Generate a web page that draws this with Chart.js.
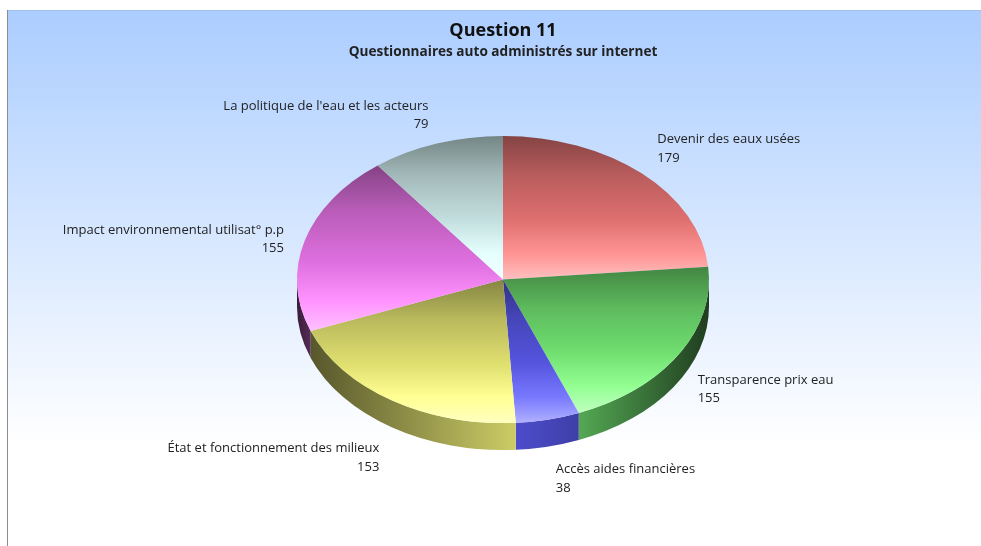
<!DOCTYPE html>
<html>
<head>
<meta charset="utf-8">
<title>Question 11</title>
<script src="https://cdn.jsdelivr.net/npm/chart.js@4"></script>
<style>
  html, body { margin: 0; padding: 0; background: #fff; }
  #wrap { width: 981px; height: 546px; }
</style>
</head>
<body>
<div id="wrap"><canvas id="chart-q11" width="981" height="546"></canvas></div>
<script>
const chartTitle = "Question 11";
const chartSubtitle = "Questionnaires auto administrés sur internet";

const categories = [
    "Devenir des eaux usées",
    "Transparence prix eau",
    "Accès aides financières",
    "État et fonctionnement des milieux",
    "Impact environnemental utilisat° p.p",
    "La politique de l'eau et les acteurs"
];
const values = [179, 155, 38, 153, 155, 79];

/* base colour of each slice, red green blue */
const sliceColors = [
    [255, 128, 128],
    [128, 255, 128],
    [96, 96, 255],
    [255, 255, 128],
    [255, 128, 255],
    [224, 255, 255]
];

const FONT = "'Open Sans', 'Noto Sans', sans-serif";
const TILT = 0.697;       // height / width of the pie ellipse
const DEPTH = 27;         // thickness of the pie
const RADIUS = 206;

/* small hand adjustment of each label, x then y */
const labelNudge = [[0, -2], [0, 3], [3, 1], [0, 7], [1, 7], [-1, 1]];

function shade(rgb, f) {
    return "rgb(" + rgb.map(c => Math.round(c * f)).join(",") + ")";
}
function tint(rgb, f) {
    return "rgb(" + rgb.map(c => Math.round(c + (255 - c) * f)).join(",") + ")";
}

/* top face: vertical gradient over the height of the slice */
function sliceGradient(context) {
    let chart = context.chart;
    let area = chart.chartArea;
    if (!area) {
        return "#ccc";
    }
    let total = values.reduce((a, b) => a + b, 0);
    let before = values.slice(0, context.dataIndex).reduce((a, b) => a + b, 0);
    let start = -Math.PI / 2 + before / total * 2 * Math.PI;
    let end = start + values[context.dataIndex] / total * 2 * Math.PI;
    let ys = [0, Math.sin(start), Math.sin(end)];
    for (let a = -Math.PI / 2; a <= 3 * Math.PI / 2; a += Math.PI / 2) {
        if (a > start && a < end) {
            ys.push(Math.sin(a));
        }
    }
    let cy = (area.top + area.bottom) / 2;
    let top = cy + Math.min(...ys) * RADIUS;
    let bottom = cy + Math.max(...ys) * RADIUS;
    let rgb = sliceColors[context.dataIndex];
    let g = chart.ctx.createLinearGradient(0, top, 0, bottom);
    g.addColorStop(0, shade(rgb, 0.52));
    g.addColorStop(0.28, shade(rgb, 0.73));
    g.addColorStop(0.58, shade(rgb, 0.87));
    g.addColorStop(0.82, tint(rgb, 0.15));
    g.addColorStop(1, tint(rgb, 0.5));
    return g;
}

const pie3d = {
    id: "pie3d",
    beforeDraw(chart) {
        let ctx = chart.ctx;
        let g = ctx.createLinearGradient(0, 10, 0, 445);
        g.addColorStop(0, "#abcdff");
        g.addColorStop(1, "#ffffff");
        ctx.save();
        ctx.fillStyle = g;
        ctx.fillRect(8, 10, chart.width - 8, chart.height - 10);
        ctx.fillStyle = "#9fbfee";
        ctx.fillRect(8, 10, chart.width - 8, 1);
        ctx.fillStyle = "#8c8c8c";
        ctx.fillRect(7, 10, 1, chart.height - 10);
        ctx.restore();
    },
    beforeDatasetsDraw(chart) {
        let ctx = chart.ctx;
        let arcs = chart.getDatasetMeta(0).data;
        let cx = arcs[0].x;
        let cy = arcs[0].y;
        let rx = arcs[0].outerRadius;
        let ry = rx * TILT;
        ctx.save();
        arcs.forEach(function (arc, i) {
            /* only the front half of the rim can be seen */
            let a0 = Math.max(arc.startAngle, 0);
            let a1 = Math.min(arc.endAngle, Math.PI);
            if (a1 <= a0) {
                return;
            }
            let rgb = sliceColors[i];
            let g = ctx.createLinearGradient(cx - rx, 0, cx + rx, 0);
            g.addColorStop(0, shade(rgb, 0.22));
            g.addColorStop(0.034, shade(rgb, 0.34));
            g.addColorStop(0.53, shade(rgb, 0.8));
            g.addColorStop(0.69, shade(rgb, 0.65));
            g.addColorStop(1, shade(rgb, 0.24));
            ctx.beginPath();
            ctx.ellipse(cx, cy + DEPTH, rx, ry, 0, a0, a1, false);
            ctx.ellipse(cx, cy, rx, ry, 0, a1, a0, true);
            ctx.closePath();
            ctx.fillStyle = g;
            ctx.fill();
        });
        ctx.restore();
        /* squash the library's arcs into the ellipse */
        ctx.save();
        ctx.translate(cx, cy);
        ctx.scale(1, TILT);
        ctx.translate(-cx, -cy);
    },
    afterDatasetsDraw(chart) {
        let ctx = chart.ctx;
        ctx.restore();
        let arcs = chart.getDatasetMeta(0).data;
        ctx.save();
        ctx.font = "13px " + FONT;
        ctx.fillStyle = "#222";
        ctx.textBaseline = "middle";
        arcs.forEach(function (arc, i) {
            let mid = (arc.startAngle + arc.endAngle) / 2;
            let rx = arc.outerRadius;
            let ry = rx * TILT;
            let x = arc.x + rx * 1.11 * Math.cos(mid) + labelNudge[i][0];
            let s = Math.sin(mid);
            let y = arc.y + ry * 1.11 * s + (s > 0 ? s * 44 : s * 15) + labelNudge[i][1];
            ctx.textAlign = Math.cos(mid) >= 0 ? "left" : "right";
            ctx.fillText(categories[i], x, y - 9.25);
            ctx.fillText(String(values[i]), x, y + 9.25);
        });
        ctx.restore();
    }
};

let myChart = new Chart(document.getElementById("chart-q11"), {
    type: "pie",
    plugins: [pie3d],
    data: {
        labels: categories,
        datasets: [{
            data: values,
            backgroundColor: sliceGradient,
            borderWidth: 0,
            radius: RADIUS
        }]
    },
    options: {
        responsive: false,
        animation: false,
        layout: { padding: { top: 20, bottom: 47.4, left: 30, right: 5 } },
        plugins: {
            legend: { display: false },
            tooltip: { enabled: false },
            title: {
                display: true,
                text: chartTitle,
                color: "#111",
                font: { family: FONT, size: 18, weight: "bold" },
                padding: { top: 0, bottom: 2.5 }
            },
            subtitle: {
                display: true,
                text: chartSubtitle,
                color: "#222",
                font: { family: FONT, size: 13.6, weight: "bold" },
                padding: 0
            }
        }
    }
});
</script>
</body>
</html>
